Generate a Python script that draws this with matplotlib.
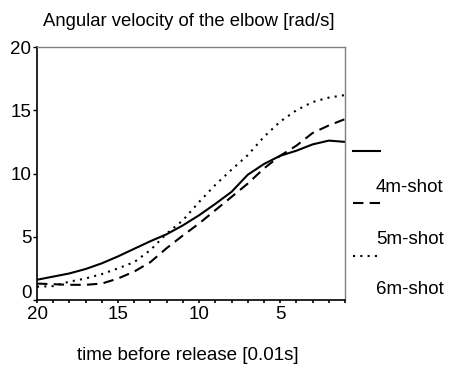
import numpy as np
import matplotlib
matplotlib.use('Agg')
import matplotlib.pyplot as plt
import matplotlib.transforms as mtransforms
from matplotlib.lines import Line2D

plt.rcParams['font.family'] = ['Liberation Sans', 'DejaVu Sans']

# DATOS
t = [20, 19, 18, 17, 16, 15, 14, 13, 12, 11, 10, 9, 8, 7, 6, 5, 4, 3, 2, 1]
shot4 = [1.6, 1.85, 2.1, 2.45, 2.9, 3.45, 4.05, 4.65, 5.2, 5.9, 6.7, 7.6, 8.55,
         9.9, 10.75, 11.4, 11.8, 12.3, 12.6, 12.5]
shot5 = [1.3, 1.25, 1.2, 1.2, 1.3, 1.7, 2.25, 3.0, 4.1, 5.1, 6.05, 7.1, 8.15,
         9.2, 10.4, 11.4, 12.2, 13.2, 13.8, 14.3]
shot6 = [1.05, 1.1, 1.45, 1.7, 2.05, 2.5, 3.0, 3.95, 5.25, 6.3, 7.75, 9.1, 10.3,
         11.45, 12.9, 14.1, 15.0, 15.65, 16.0, 16.2]
labels = ['4m-shot', '5m-shot', '6m-shot']
styles = ['-', (0, (5, 3)), (0, (1, 2.5))]

fs = 13.5

fig = plt.figure(figsize=(4.54, 3.74), dpi=100)
ax = fig.add_axes([37/454, 1-300/374, 308/454, 253/374])

for y, ls in zip([shot4, shot5, shot6], styles):
    ax.plot(t, y, color='black', linestyle=ls, linewidth=1.5)

ax.set_xlim(20, 1)
ax.set_ylim(0, 20)
ax.set_xticks(t, minor=True)
ax.set_xticks([20, 15, 10, 5])
ax.set_yticks([0, 5, 10, 15, 20])
ax.tick_params(axis='both', labelsize=fs, direction='out', length=3, width=1)
ax.tick_params(axis='x', which='minor', length=2, width=1.2)
ax.tick_params(axis='x', which='major', length=2, width=1.2, pad=2)
ax.tick_params(axis='y', pad=1)
for s in ['left', 'bottom']:
    ax.spines[s].set_linewidth(1.2)
for s in ['top', 'right']:
    ax.spines[s].set_color('#808080')
    ax.spines[s].set_linewidth(1)

# el "0" del eje y va un poco por encima del eje
fig.canvas.draw()
lab0 = ax.get_yticklabels()[0]
lab0.set_transform(lab0.get_transform() +
                   mtransforms.ScaledTranslation(0, 8/100, fig.dpi_scale_trans))

fig.text(43/454, 1-22/374, 'Angular velocity of the elbow [rad/s]',
         fontsize=13.3, va='center', ha='left')
fig.text(188/454, 1-355/374, 'time before release [0.01s]',
         fontsize=fs, va='center', ha='center')

# Leyenda desplazada (como en el original)
ys_line = [151.5, 203, 256]
ys_text = [187, 239, 290]
for lab, ls, yl, yt in zip(labels, styles, ys_line, ys_text):
    fig.add_artist(Line2D([353/454, 380/454], [1-yl/374, 1-yl/374],
                          color='black', linestyle=ls, linewidth=1.5))
    fig.text(376/454, 1-yt/374, lab, fontsize=fs, va='center', ha='left')

fig.savefig('out.png', dpi=100)
